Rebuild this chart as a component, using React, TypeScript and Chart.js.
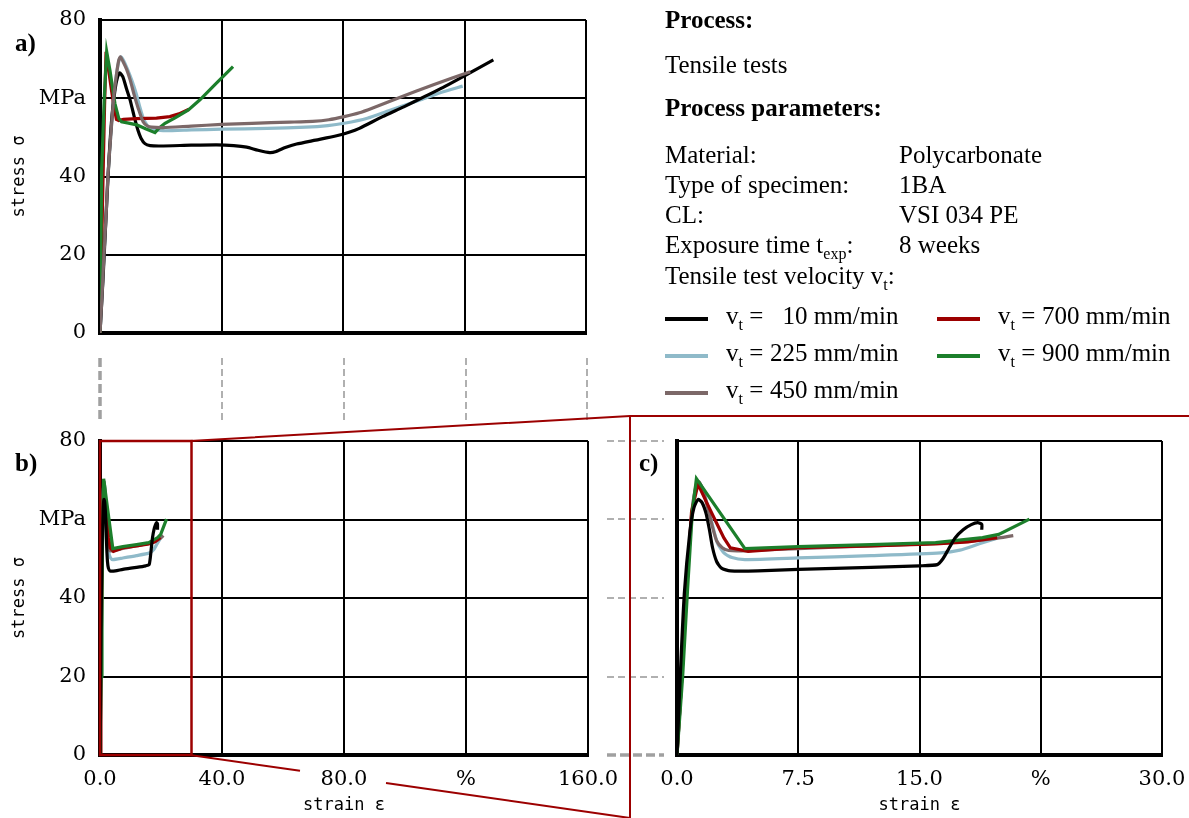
import React, { useEffect, useRef } from 'react';
import { Chart, registerables } from 'chart.js';

Chart.register(...registerables);

// ---------- series meta ----------
const SPEEDS = ['10', '225', '450', '700', '900'];
const COLORS = ['#000000', '#8fbac9', '#7c6868', '#9c0000', '#1c7f2b'];
const ORDER_A = [2, 4, 3, 0, 1]; // first drawn on top
const ORDER_D = [0, 4, 3, 2, 1];

// ---------- tick labels ----------
const Y_LABELS = ['0', '20', '40', 'MPa', '80'];
const B_X_LABELS = ['0.0', '40.0', '80.0', '%', '160.0'];
const C_X_LABELS = ['0.0', '7.5', '15.0', '%', '30.0'];

// ---------- panel a: overview (strain %, stress MPa) ----------
const a10 = [[0,0],[1,14],[2,30],[3,45],[4,56],[5,62.5],[5.8,65.5],[6.5,66.5],[7.5,65.5],[8.7,62.5],[9.9,59.6],[11.2,55.5],[12.5,51.8],[13.5,49.8],[14.8,48.4],[16.5,47.9],[20,47.8],[30,48],[38.4,48.1],[44,47.9],[48.3,47.5],[52,46.7],[55.9,46.1],[58,46.4],[61,47.4],[64.7,48.3],[71,49.3],[77.9,50.4],[82,51.3],[85.4,52.3],[93,55.3],[100,57.8],[106.8,60.4],[113,62.8],[119.4,65.5],[129.5,69.8]];
const a225 = [[0,0],[0.7,10],[1.3,20],[2,30],[2.6,40],[3.5,50],[4.5,60],[5.5,66.5],[6.3,69.8],[6.9,70.6],[7.8,69.6],[9,67.5],[10.5,64.5],[12,61],[13.2,57.5],[14.2,55],[15.5,53.1],[17,52.2],[20.8,51.7],[30,51.9],[40,52.1],[55,52.3],[67.8,52.6],[75,53],[80.4,53.6],[88,54.9],[95,56.8],[105.6,59.6],[112,61.4],[119.4,63.1]];
const a450 = [[0,0],[0.7,10],[1.3,20],[2,30],[2.6,40],[3.5,50],[4.5,60],[5.5,66.5],[6.2,69.8],[6.7,70.6],[7.5,69.5],[8.8,67.3],[10,64.5],[11.2,61],[12.6,57.4],[14.2,54],[15.6,52.9],[17,52.6],[20.8,52.5],[30,52.9],[40,53.3],[50,53.6],[62.5,53.9],[70,54.1],[75.3,54.5],[80.4,55.3],[85.4,56.3],[90,57.6],[98,60],[110,63.5],[121.9,66.8]];
const a700 = [[0,0],[0.5,20],[1,40],[1.5,58],[2,71.9],[2.8,67.5],[3.8,62],[4.7,57.5],[5.4,54.6],[6.2,54.3],[7.7,54.6],[12,54.8],[18.6,54.9],[23,55.3],[26,56],[29.3,57.2]];
const a900 = [[0,0],[0.55,41.7],[1.4,60],[2.2,71.9],[3.3,67],[4.9,58.7],[6.2,54.8],[7.1,54],[9,53.7],[12.1,53.2],[15,52.2],[18.1,51.2],[19.5,52.4],[21.4,53.6],[25,55.1],[29.1,57],[32.9,59.6],[38,63.6],[43.8,68.1]];

// ---------- panels b and c: detail ----------
const d10 = [[0,0],[0.2,20],[0.45,41],[0.8,57],[1.05,63],[1.3,65.1],[1.55,64.3],[1.8,61.5],[2.0,57.5],[2.2,52.8],[2.45,49.3],[2.75,47.6],[3.3,46.9],[5,46.9],[7.5,47.3],[12,47.8],[15,48.2],[16.1,48.5],[16.45,50],[16.8,52.5],[17.2,55.3],[17.7,57.4],[18.2,58.7],[18.6,59.2],[18.85,58.8],[18.85,57.4]];
const d225 = [[0,0],[0.3,20],[0.6,42],[0.9,60.5],[1.15,67.8],[1.35,69.4],[1.6,67.8],[1.9,63.5],[2.2,58.5],[2.5,54],[2.9,51.5],[3.4,50.3],[4.2,49.8],[7.5,50.2],[12,50.8],[16.3,51.5],[17.5,52.2],[18.7,53.8],[19.8,55.2]];
const d450 = [[0,0],[0.3,20],[0.6,42],[0.9,61],[1.15,68.2],[1.35,69.6],[1.6,67.5],[1.9,63],[2.2,58],[2.45,54.6],[2.8,52.8],[3.2,52.1],[4,52],[7.5,52.6],[12,53.3],[16,53.9],[18,54.4],[19.6,55.1],[20.8,55.9]];
const d700 = [[0,0],[0.3,20],[0.6,43],[0.9,62],[1.3,69],[1.8,64.6],[2.4,59.5],[2.9,55.3],[3.3,52.8],[4.4,51.9],[7.5,52.8],[12,53.3],[16,53.8],[18,54.3],[19.8,55.4]];
const d900 = [[0,0],[0.35,20],[0.65,42],[0.95,62],[1.2,70.4],[4.2,52.6],[7.5,53.1],[12,53.6],[16,54.1],[18.9,55.4],[19.9,56.2],[21.8,60.1]];

const OVERVIEW = [a10, a225, a450, a700, a900];
const DETAIL = [d10, d225, d450, d700, d900];

const ZOOM_X_MAX = 30;
const Y_MAX = 80;

const RED = '#9c0000';
const TICK_FONT = { family: "'DejaVu Serif', serif", size: 21 };
const TITLE_FONT = { family: "'DejaVu Sans Mono', monospace", size: 17 };
const TEXT_FONT = "'Liberation Serif', 'Times New Roman', serif";

function buildDatasets(series: number[][][], order: number[]) {
  return order.map((i) => ({
    label: `v_t = ${SPEEDS[i]} mm/min`,
    data: series[i].map(([x, y]) => ({ x, y })),
    borderColor: COLORS[i],
    backgroundColor: COLORS[i],
    borderWidth: 3.2,
    pointRadius: 0,
    fill: false,
    tension: i === 4 || i === 3 ? 0 : 0.2,
  }));
}

const gridOpts = { color: '#000', lineWidth: 2, drawTicks: false };
const borderOpts = { color: '#000', width: 4 };

function zeroPad(s: any) {
  s.paddingTop = 0;
  s.paddingBottom = 0;
  s.paddingLeft = 0;
  s.paddingRight = 0;
}

function yAxis(showLabels: boolean, width: number) {
  return {
    type: 'linear',
    min: 0,
    max: Y_MAX,
    ticks: {
      display: showLabels,
      stepSize: 20,
      padding: 14,
      color: '#000',
      font: TICK_FONT,
      callback: (_v: any, i: number) => Y_LABELS[i],
    },
    grid: gridOpts,
    border: borderOpts,
    title: {
      display: showLabels,
      text: 'stress σ',
      color: '#000',
      font: TITLE_FONT,
      padding: { top: 9, bottom: 0 },
    },
    afterFit: (s: any) => { s.width = width; zeroPad(s); },
  };
}

function xAxis(max: number, labels: string[] | null, height: number) {
  return {
    type: 'linear',
    min: 0,
    max,
    ticks: {
      display: !!labels,
      stepSize: max / 4,
      padding: 12,
      maxRotation: 0,
      autoSkip: false,
      color: '#000',
      font: TICK_FONT,
      callback: (_v: any, i: number) => (labels ? labels[i] : ''),
    },
    grid: gridOpts,
    border: borderOpts,
    title: {
      display: !!labels,
      text: 'strain ε',
      color: '#000',
      font: TITLE_FONT,
      padding: { top: 0, bottom: 2 },
    },
    afterFit: (s: any) => { s.height = height; zeroPad(s); },
  };
}

const zoomRectPlugin = {
  id: 'zoomRect',
  afterDatasetsDraw(chart: any) {
    const { x, y } = chart.scales;
    const ctx = chart.ctx;
    const l = x.getPixelForValue(0);
    const r = x.getPixelForValue(ZOOM_X_MAX);
    const t = y.getPixelForValue(Y_MAX);
    const b = y.getPixelForValue(0);
    ctx.save();
    ctx.strokeStyle = RED;
    ctx.lineWidth = 2.5;
    ctx.strokeRect(l, t, r - l, b - t);
    ctx.restore();
  },
};

function baseOptions(padding: any, scales: any) {
  return {
    responsive: false,
    animation: false,
    events: [],
    layout: { padding },
    plugins: { legend: { display: false }, tooltip: { enabled: false } },
    scales,
  };
}

function ChartCanvas({ left, top, width, height, make }: any) {
  const ref = useRef<HTMLCanvasElement>(null);
  useEffect(() => {
    const chart = new Chart(ref.current as HTMLCanvasElement, make());
    return () => chart.destroy();
  }, []);
  return (
    <canvas
      ref={ref}
      width={width}
      height={height}
      style={{ position: 'absolute', left, top, width, height }}
    />
  );
}

const makeA = () => ({
  type: 'line',
  data: { datasets: buildDatasets(OVERVIEW, ORDER_A) },
  options: baseOptions({ top: 20, right: 14, left: 0, bottom: 0 }, {
    x: xAxis(160, null, 12),
    y: yAxis(true, 100),
  }),
});

const makeB = () => ({
  type: 'line',
  data: { datasets: buildDatasets(DETAIL, ORDER_D) },
  options: baseOptions({ top: 21, right: 37, left: 0, bottom: 0 }, {
    x: xAxis(160, B_X_LABELS, 63),
    y: yAxis(true, 100),
  }),
  plugins: [zoomRectPlugin],
});

const makeC = () => ({
  type: 'line',
  data: { datasets: buildDatasets(DETAIL, ORDER_D) },
  options: baseOptions({ top: 21, right: 27, left: 0, bottom: 0 }, {
    x: xAxis(ZOOM_X_MAX, C_X_LABELS, 63),
    y: yAxis(false, 57),
  }),
});

const Sub = ({ children }: any) => (
  <span style={{ fontSize: 16, position: 'relative', top: 6 }}>{children}</span>
);

const T = ({ left, top, bold, children }: any) => (
  <div
    style={{
      position: 'absolute',
      left,
      top,
      fontFamily: TEXT_FONT,
      fontSize: 25,
      lineHeight: '25px',
      fontWeight: bold ? 'bold' : 'normal',
      whiteSpace: 'nowrap',
      color: '#000',
    }}
  >
    {children}
  </div>
);

function LegendItem({ idx, left, top }: any) {
  return (
    <>
      <div style={{ position: 'absolute', left, top: top + 14, width: 43, height: 4, background: COLORS[idx] }} />
      <T left={left + 61} top={top}>
        v<Sub>t</Sub> ={' '}
        <span style={{ display: 'inline-block', width: 38, textAlign: 'right' }}>{SPEEDS[idx]}</span>{' '}
        mm/min
      </T>
    </>
  );
}

export default function App() {
  const dashV = [222, 344, 466, 587];
  const dashH = [441, 519, 598, 677];
  return (
    <div style={{ position: 'absolute', left: 0, top: 0, width: 1189, height: 818, background: '#fff', overflow: 'hidden' }}>
      <ChartCanvas left={0} top={0} width={600} height={345} make={makeA} />
      <ChartCanvas left={0} top={420} width={625} height={398} make={makeB} />
      <ChartCanvas left={620} top={420} width={569} height={398} make={makeC} />

      <svg width={1189} height={818} style={{ position: 'absolute', left: 0, top: 0, pointerEvents: 'none' }}>
        <line x1={100} y1={358} x2={100} y2={422} stroke="#a0a0a0" strokeWidth={3.5} strokeDasharray="9 4" />
        {dashV.map((x) => (
          <line key={x} x1={x} y1={358} x2={x} y2={422} stroke="#b0b0b0" strokeWidth={2} strokeDasharray="7 4" />
        ))}
        {dashH.map((y) => (
          <line key={y} x1={607} y1={y} x2={664} y2={y} stroke="#b0b0b0" strokeWidth={2} strokeDasharray="7 4" />
        ))}
        <line x1={607} y1={755} x2={664} y2={755} stroke="#a0a0a0" strokeWidth={3.5} strokeDasharray="9 4" />
        <polyline points="190,441 630,416 1189,416" fill="none" stroke={RED} strokeWidth={2} />
        <line x1={630} y1={416} x2={630} y2={818} stroke={RED} strokeWidth={2} />
        <line x1={190} y1={755} x2={300} y2={770.8} stroke={RED} strokeWidth={2} />
        <line x1={386} y1={783} x2={630} y2={818} stroke={RED} strokeWidth={2} />
      </svg>

      <T left={15} top={30} bold>a)</T>
      <T left={15} top={450} bold>b)</T>
      <T left={639} top={450} bold>c)</T>

      <T left={665} top={7} bold>Process:</T>
      <T left={665} top={52}>Tensile tests</T>
      <T left={665} top={95} bold>Process parameters:</T>
      <T left={665} top={142}>Material:</T>
      <T left={899} top={142}>Polycarbonate</T>
      <T left={665} top={172}>Type of specimen:</T>
      <T left={899} top={172}>1BA</T>
      <T left={665} top={202}>CL:</T>
      <T left={899} top={202}>VSI 034 PE</T>
      <T left={665} top={232}>Exposure time t<Sub>exp</Sub>:</T>
      <T left={899} top={232}>8 weeks</T>
      <T left={665} top={263}>Tensile test velocity v<Sub>t</Sub>:</T>

      <LegendItem idx={0} left={665} top={303} />
      <LegendItem idx={1} left={665} top={340} />
      <LegendItem idx={2} left={665} top={377} />
      <LegendItem idx={3} left={937} top={303} />
      <LegendItem idx={4} left={937} top={340} />
    </div>
  );
}
